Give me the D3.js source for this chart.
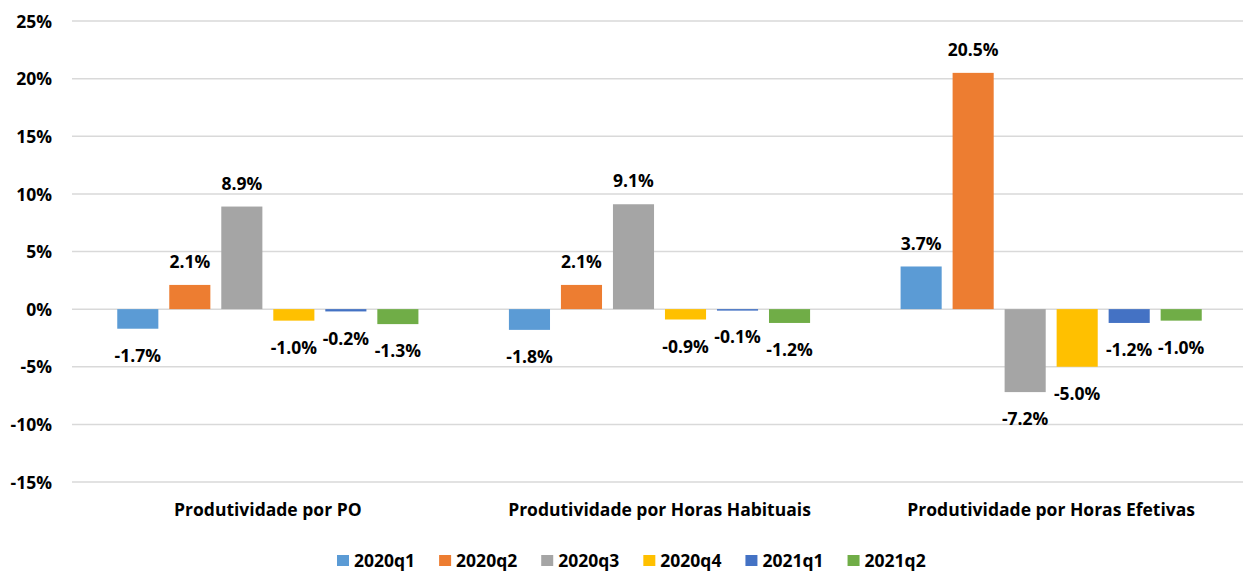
<!DOCTYPE html>
<html lang="pt">
  <head>
    <meta charset="UTF-8" />
    <title>Produtividade</title>
    <script src="https://d3js.org/d3.v7.min.js"></script>
    <style>
      body { margin: 0; background: #fff; }
      text { font-family: "Open Sans", sans-serif; font-weight: bold; fill: #000; }
    </style>
  </head>
  <body>
    <svg width="1243" height="571"></svg>
    <script>
      // dados
      const categories = ["Produtividade por PO", "Produtividade por Horas Habituais", "Produtividade por Horas Efetivas"];
      const series = ["2020q1", "2020q2", "2020q3", "2020q4", "2021q1", "2021q2"];
      const values = [
        [-1.7, 2.1, 8.9, -1.0, -0.2, -1.3],
        [-1.8, 2.1, 9.1, -0.9, -0.1, -1.2],
        [3.7, 20.5, -7.2, -5.0, -1.2, -1.0]
      ];
      const yTicks = [-15, -10, -5, 0, 5, 10, 15, 20, 25];
      const colors = ["#5B9BD5", "#ED7D31", "#A5A5A5", "#FFC000", "#4472C4", "#70AD47"];

      const svg = d3.select("svg");
      const fs = "17.5px";

      const x0 = d3.scaleBand().domain(categories).range([72, 1247]);
      const x1 = d3.scaleBand().domain(series)
        .range([0, x0.bandwidth()])
        .paddingInner(0.21)
        .paddingOuter(0.87);
      const y = d3.scaleLinear().domain([-15, 25]).range([482, 21]);

      // grelha
      svg.append("g").selectAll("line").data(yTicks).enter().append("line")
        .attr("x1", 72).attr("x2", 1243)
        .attr("y1", d => y(d)).attr("y2", d => y(d))
        .attr("stroke", "#D9D9D9").attr("stroke-width", 1.5);

      // eixo y
      const yAxis = d3.axisLeft(y).tickValues(yTicks).tickFormat(d => d + "%").tickSize(0).tickPadding(0);
      const ga = svg.append("g").attr("transform", "translate(52,0)").call(yAxis);
      ga.select(".domain").remove();
      ga.selectAll("text").style("font-size", fs).attr("font-family", null).attr("dy", "0.35em");

      // barras
      const groups = svg.selectAll(".grp").data(categories).enter().append("g")
        .attr("transform", d => `translate(${x0(d)},0)`);

      const cells = groups.selectAll("g").data((c, i) => series.map((s, j) => ({ s, v: values[i][j], j })))
        .enter().append("g");

      cells.append("rect")
        .attr("x", d => x1(d.s))
        .attr("width", x1.bandwidth())
        .attr("y", d => Math.min(y(d.v), y(0)))
        .attr("height", d => Math.max(1.5, Math.abs(y(d.v) - y(0))))
        .attr("fill", d => colors[d.j]);

      cells.append("text")
        .attr("x", d => x1(d.s) + x1.bandwidth() / 2)
        .attr("y", d => d.v >= 0 ? y(d.v) - 23 : y(d.v) + 27)
        .attr("dy", "0.35em")
        .attr("text-anchor", "middle")
        .style("font-size", fs)
        .text(d => d.v.toFixed(1) + "%");

      // rótulos das categorias
      svg.append("g").selectAll("text").data(categories).enter().append("text")
        .attr("x", d => x0(d) + x0.bandwidth() / 2)
        .attr("y", 510)
        .attr("dy", "0.35em")
        .attr("text-anchor", "middle")
        .style("font-size", fs)
        .text(d => d);

      // legenda
      const legend = svg.append("g");
      let lx = 337;
      series.forEach((s, i) => {
        legend.append("rect").attr("x", lx).attr("y", 555).attr("width", 12).attr("height", 11).attr("fill", colors[i]);
        const t = legend.append("text").attr("x", lx + 17).attr("y", 561).attr("dy", "0.35em")
          .style("font-size", fs).text(s);
        lx += 17 + t.node().getComputedTextLength() + 24;
      });
    </script>
  </body>
</html>
